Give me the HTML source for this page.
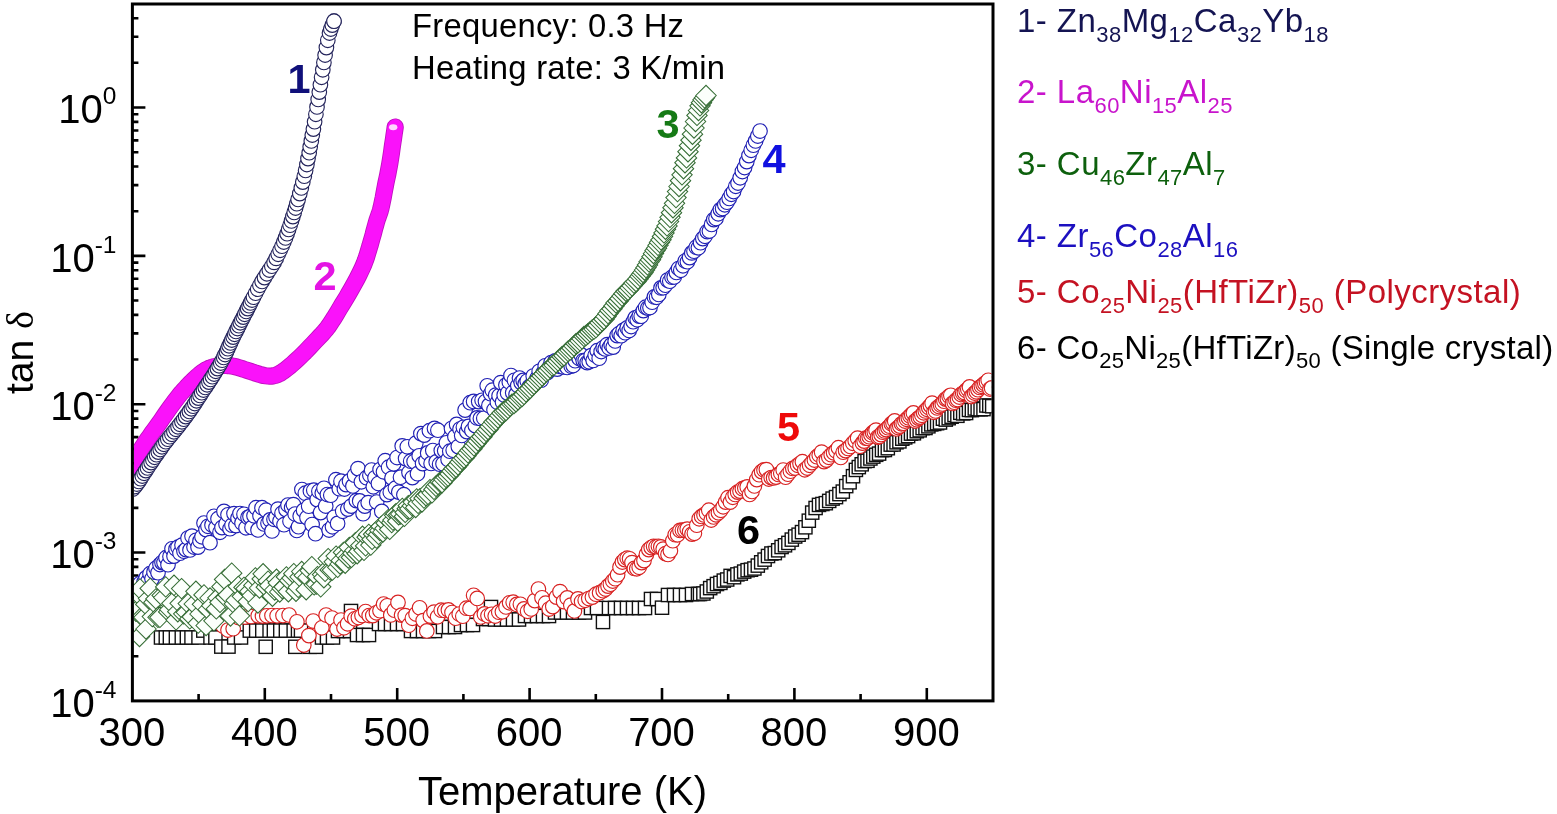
<!DOCTYPE html>
<html><head><meta charset="utf-8"><title>tan delta vs temperature</title>
<style>html,body{margin:0;padding:0;background:#fff;overflow:hidden}svg{display:block}</style>
</head><body>
<svg width="1557" height="814" viewBox="0 0 1557 814">
<rect width="100%" height="100%" fill="#fff"/>
<path d="M198.6 700.9V693.9 M264.8 700.9V687.9 M331.0 700.9V693.9 M397.2 700.9V687.9 M463.4 700.9V693.9 M529.6 700.9V687.9 M595.8 700.9V693.9 M662.0 700.9V687.9 M728.2 700.9V693.9 M794.4 700.9V687.9 M860.6 700.9V693.9 M926.8 700.9V687.9 M132.4 656.2H138.4 M132.4 630.1H138.4 M132.4 611.6H138.4 M132.4 597.2H138.4 M132.4 585.5H138.4 M132.4 575.5H138.4 M132.4 566.9H138.4 M132.4 559.3H138.4 M132.4 552.5H145.4 M132.4 507.9H138.4 M132.4 481.8H138.4 M132.4 463.2H138.4 M132.4 448.9H138.4 M132.4 437.1H138.4 M132.4 427.2H138.4 M132.4 418.6H138.4 M132.4 411.0H138.4 M132.4 404.2H145.4 M132.4 359.5H138.4 M132.4 333.4H138.4 M132.4 314.9H138.4 M132.4 300.5H138.4 M132.4 288.8H138.4 M132.4 278.8H138.4 M132.4 270.2H138.4 M132.4 262.6H138.4 M132.4 255.9H145.4 M132.4 211.2H138.4 M132.4 185.1H138.4 M132.4 166.5H138.4 M132.4 152.2H138.4 M132.4 140.4H138.4 M132.4 130.5H138.4 M132.4 121.9H138.4 M132.4 114.3H138.4 M132.4 107.5H145.4 M132.4 62.8H138.4 M132.4 36.7H138.4 M132.4 18.2H138.4" stroke="#000" stroke-width="2.6" fill="none"/>
<defs><clipPath id="pc"><rect x="133.9" y="5.5" width="857.6" height="693.9"/></clipPath></defs>
<g clip-path="url(#pc)">
<g fill="#fff" stroke="#111" stroke-width="1.4">
<rect x="154.4" y="630.9" width="13.2" height="13.2"/><rect x="159.2" y="630.9" width="13.2" height="13.2"/><rect x="163.3" y="630.9" width="13.2" height="13.2"/><rect x="169.3" y="630.9" width="13.2" height="13.2"/><rect x="175.2" y="630.9" width="13.2" height="13.2"/><rect x="180.3" y="630.9" width="13.2" height="13.2"/><rect x="184.9" y="630.9" width="13.2" height="13.2"/><rect x="191.9" y="630.9" width="13.2" height="13.2"/><rect x="196.7" y="624" width="13.2" height="13.2"/><rect x="203.9" y="630.9" width="13.2" height="13.2"/><rect x="208.8" y="630.9" width="13.2" height="13.2"/><rect x="214.7" y="640" width="13.2" height="13.2"/><rect x="221.9" y="640" width="13.2" height="13.2"/><rect x="227.6" y="630.9" width="13.2" height="13.2"/><rect x="234.4" y="630.9" width="13.2" height="13.2"/><rect x="243.2" y="624" width="13.2" height="13.2"/><rect x="249.6" y="624" width="13.2" height="13.2"/><rect x="255.7" y="624" width="13.2" height="13.2"/><rect x="259.1" y="640.2" width="13.2" height="13.2"/><rect x="263" y="624" width="13.2" height="13.2"/><rect x="267.3" y="624" width="13.2" height="13.2"/><rect x="273.7" y="624" width="13.2" height="13.2"/><rect x="279.3" y="624" width="13.2" height="13.2"/><rect x="287.1" y="624" width="13.2" height="13.2"/><rect x="288.7" y="640.2" width="13.2" height="13.2"/><rect x="291.4" y="624" width="13.2" height="13.2"/><rect x="294.4" y="624" width="13.2" height="13.2"/><rect x="303.1" y="640.2" width="13.2" height="13.2"/><rect x="309.4" y="640.2" width="13.2" height="13.2"/><rect x="315.4" y="630.9" width="13.2" height="13.2"/><rect x="320.4" y="630.9" width="13.2" height="13.2"/><rect x="326.4" y="630.9" width="13.2" height="13.2"/><rect x="331.4" y="624.4" width="13.2" height="13.2"/><rect x="337.4" y="624.4" width="13.2" height="13.2"/><rect x="343.4" y="624.4" width="13.2" height="13.2"/><rect x="344.4" y="604.4" width="13.2" height="13.2"/><rect x="350.4" y="628.4" width="13.2" height="13.2"/><rect x="356.4" y="628.4" width="13.2" height="13.2"/><rect x="362.4" y="628.4" width="13.2" height="13.2"/><rect x="372.4" y="617.4" width="13.2" height="13.2"/><rect x="378.4" y="617.4" width="13.2" height="13.2"/><rect x="384.4" y="617.4" width="13.2" height="13.2"/><rect x="390.4" y="617.4" width="13.2" height="13.2"/><rect x="396.4" y="617.4" width="13.2" height="13.2"/><rect x="404.4" y="624.4" width="13.2" height="13.2"/><rect x="410.4" y="624.4" width="13.2" height="13.2"/><rect x="416.4" y="624.4" width="13.2" height="13.2"/><rect x="422.4" y="624.4" width="13.2" height="13.2"/><rect x="428.4" y="624.4" width="13.2" height="13.2"/><rect x="436.4" y="620.4" width="13.2" height="13.2"/><rect x="442.4" y="620.4" width="13.2" height="13.2"/><rect x="448.4" y="620.4" width="13.2" height="13.2"/><rect x="454.4" y="618.4" width="13.2" height="13.2"/><rect x="460.4" y="618.4" width="13.2" height="13.2"/><rect x="466.4" y="618.4" width="13.2" height="13.2"/><rect x="476.4" y="612.4" width="13.2" height="13.2"/><rect x="482.4" y="612.4" width="13.2" height="13.2"/><rect x="484.4" y="600.4" width="13.2" height="13.2"/><rect x="488.4" y="612.9" width="13.2" height="13.2"/><rect x="494.4" y="612.9" width="13.2" height="13.2"/><rect x="500.4" y="612.9" width="13.2" height="13.2"/><rect x="506.4" y="612.9" width="13.2" height="13.2"/><rect x="512.4" y="612.9" width="13.2" height="13.2"/><rect x="518.4" y="609.4" width="13.2" height="13.2"/><rect x="524.4" y="609.4" width="13.2" height="13.2"/><rect x="530.4" y="609.4" width="13.2" height="13.2"/><rect x="536.4" y="609.4" width="13.2" height="13.2"/><rect x="542.4" y="609.4" width="13.2" height="13.2"/><rect x="548.4" y="605.9" width="13.2" height="13.2"/><rect x="554.4" y="605.9" width="13.2" height="13.2"/><rect x="560.4" y="605.9" width="13.2" height="13.2"/><rect x="566.4" y="605.9" width="13.2" height="13.2"/><rect x="572.4" y="605.9" width="13.2" height="13.2"/><rect x="578.4" y="605.9" width="13.2" height="13.2"/><rect x="584.4" y="601.4" width="13.2" height="13.2"/><rect x="590.4" y="601.4" width="13.2" height="13.2"/><rect x="596.4" y="615.4" width="13.2" height="13.2"/><rect x="602.4" y="601.4" width="13.2" height="13.2"/><rect x="608.4" y="601.4" width="13.2" height="13.2"/><rect x="614.4" y="601.4" width="13.2" height="13.2"/><rect x="620.4" y="601.4" width="13.2" height="13.2"/><rect x="626.4" y="601.4" width="13.2" height="13.2"/><rect x="632.4" y="601.4" width="13.2" height="13.2"/><rect x="638.4" y="601.4" width="13.2" height="13.2"/><rect x="644.4" y="592.4" width="13.2" height="13.2"/><rect x="650.4" y="592.4" width="13.2" height="13.2"/><rect x="655.4" y="601.1" width="13.2" height="13.2"/><rect x="661.4" y="588.4" width="13.2" height="13.2"/><rect x="667.4" y="588.4" width="13.2" height="13.2"/><rect x="673.4" y="588.4" width="13.2" height="13.2"/><rect x="679.4" y="588.4" width="13.2" height="13.2"/><rect x="685.4" y="587.4" width="13.2" height="13.2"/><rect x="691.4" y="587.4" width="13.2" height="13.2"/><rect x="693.4" y="587.4" width="13.2" height="13.2"/><rect x="696.8" y="586.9" width="13.2" height="13.2"/><rect x="700.2" y="584.9" width="13.2" height="13.2"/><rect x="703.6" y="581.5" width="13.2" height="13.2"/><rect x="707" y="579.6" width="13.2" height="13.2"/><rect x="710.4" y="577.4" width="13.2" height="13.2"/><rect x="713.8" y="576.3" width="13.2" height="13.2"/><rect x="717.2" y="574" width="13.2" height="13.2"/><rect x="720.6" y="572.9" width="13.2" height="13.2"/><rect x="724" y="569.3" width="13.2" height="13.2"/><rect x="727.4" y="570.6" width="13.2" height="13.2"/><rect x="730.8" y="567.8" width="13.2" height="13.2"/><rect x="734.2" y="567" width="13.2" height="13.2"/><rect x="737.6" y="565" width="13.2" height="13.2"/><rect x="741" y="563.6" width="13.2" height="13.2"/><rect x="744.4" y="563.1" width="13.2" height="13.2"/><rect x="747.8" y="561.9" width="13.2" height="13.2"/><rect x="751.2" y="559" width="13.2" height="13.2"/><rect x="754.6" y="555.7" width="13.2" height="13.2"/><rect x="758" y="553" width="13.2" height="13.2"/><rect x="761.4" y="549.4" width="13.2" height="13.2"/><rect x="764.8" y="546.9" width="13.2" height="13.2"/><rect x="768.2" y="546.5" width="13.2" height="13.2"/><rect x="771.6" y="543.7" width="13.2" height="13.2"/><rect x="775" y="540.4" width="13.2" height="13.2"/><rect x="778.4" y="538.7" width="13.2" height="13.2"/><rect x="781.8" y="536.3" width="13.2" height="13.2"/><rect x="785.2" y="533" width="13.2" height="13.2"/><rect x="788.6" y="529.9" width="13.2" height="13.2"/><rect x="792" y="528.1" width="13.2" height="13.2"/><rect x="795.4" y="525.5" width="13.2" height="13.2"/><rect x="798.8" y="520.7" width="13.2" height="13.2"/><rect x="802.2" y="514.1" width="13.2" height="13.2"/><rect x="805.6" y="506" width="13.2" height="13.2"/><rect x="809" y="501.4" width="13.2" height="13.2"/><rect x="812.4" y="498.3" width="13.2" height="13.2"/><rect x="815.8" y="497.4" width="13.2" height="13.2"/><rect x="819.2" y="496.6" width="13.2" height="13.2"/><rect x="822.6" y="494.3" width="13.2" height="13.2"/><rect x="826" y="492" width="13.2" height="13.2"/><rect x="829.4" y="490.5" width="13.2" height="13.2"/><rect x="832.8" y="487.5" width="13.2" height="13.2"/><rect x="836.2" y="485" width="13.2" height="13.2"/><rect x="839.6" y="479.5" width="13.2" height="13.2"/><rect x="843" y="475.7" width="13.2" height="13.2"/><rect x="846.4" y="469.6" width="13.2" height="13.2"/><rect x="849.3" y="463.3" width="13.2" height="13.2"/><rect x="852.2" y="460.5" width="13.2" height="13.2"/><rect x="855.1" y="457.7" width="13.2" height="13.2"/><rect x="858" y="454.5" width="13.2" height="13.2"/><rect x="860.9" y="454.2" width="13.2" height="13.2"/><rect x="863.8" y="451.9" width="13.2" height="13.2"/><rect x="866.7" y="450" width="13.2" height="13.2"/><rect x="869.6" y="448.2" width="13.2" height="13.2"/><rect x="872.5" y="447" width="13.2" height="13.2"/><rect x="875.4" y="443.5" width="13.2" height="13.2"/><rect x="878.3" y="443.4" width="13.2" height="13.2"/><rect x="881.2" y="441.6" width="13.2" height="13.2"/><rect x="884.1" y="438" width="13.2" height="13.2"/><rect x="887" y="437.9" width="13.2" height="13.2"/><rect x="889.9" y="435.7" width="13.2" height="13.2"/><rect x="892.8" y="434.8" width="13.2" height="13.2"/><rect x="895.7" y="432.1" width="13.2" height="13.2"/><rect x="898.6" y="430.8" width="13.2" height="13.2"/><rect x="901.5" y="429.5" width="13.2" height="13.2"/><rect x="904.4" y="427" width="13.2" height="13.2"/><rect x="907.3" y="426.7" width="13.2" height="13.2"/><rect x="910.2" y="424.6" width="13.2" height="13.2"/><rect x="913.1" y="423.7" width="13.2" height="13.2"/><rect x="916" y="421.5" width="13.2" height="13.2"/><rect x="918.9" y="421.4" width="13.2" height="13.2"/><rect x="921.8" y="419.7" width="13.2" height="13.2"/><rect x="924.7" y="417.8" width="13.2" height="13.2"/><rect x="927.6" y="417.3" width="13.2" height="13.2"/><rect x="930.5" y="416.6" width="13.2" height="13.2"/><rect x="933.4" y="415.9" width="13.2" height="13.2"/><rect x="936.3" y="412.1" width="13.2" height="13.2"/><rect x="939.2" y="413" width="13.2" height="13.2"/><rect x="942.1" y="411.6" width="13.2" height="13.2"/><rect x="945" y="410.1" width="13.2" height="13.2"/><rect x="947.9" y="408.4" width="13.2" height="13.2"/><rect x="950.8" y="409.2" width="13.2" height="13.2"/><rect x="953.7" y="406.2" width="13.2" height="13.2"/><rect x="956.6" y="406.8" width="13.2" height="13.2"/><rect x="959.5" y="406.4" width="13.2" height="13.2"/><rect x="962.4" y="403.3" width="13.2" height="13.2"/><rect x="965.3" y="403.5" width="13.2" height="13.2"/><rect x="968.2" y="401.9" width="13.2" height="13.2"/><rect x="971.1" y="402.4" width="13.2" height="13.2"/><rect x="974" y="402.7" width="13.2" height="13.2"/><rect x="976.9" y="402.5" width="13.2" height="13.2"/><rect x="979.8" y="398.9" width="13.2" height="13.2"/><rect x="982.7" y="399.2" width="13.2" height="13.2"/><rect x="985.6" y="399.6" width="13.2" height="13.2"/>
</g>
<g fill="#fff" stroke="#d82222" stroke-width="1.15">
<circle cx="136" cy="616" r="7.3"/><circle cx="138" cy="612" r="7.3"/><circle cx="223" cy="626" r="7.3"/><circle cx="228" cy="630" r="7.3"/><circle cx="233.2" cy="628.7" r="7.3"/><circle cx="238.4" cy="617.5" r="7.3"/><circle cx="245" cy="617" r="7.3"/><circle cx="251" cy="616.5" r="7.3"/><circle cx="258.2" cy="615.8" r="7.3"/><circle cx="262.5" cy="616" r="7.3"/><circle cx="266.8" cy="615.8" r="7.3"/><circle cx="272" cy="615.5" r="7.3"/><circle cx="277.1" cy="615.8" r="7.3"/><circle cx="283" cy="615.5" r="7.3"/><circle cx="289.1" cy="615" r="7.3"/><circle cx="296.9" cy="621.8" r="7.3"/><circle cx="303.8" cy="645" r="7.3"/><circle cx="308.9" cy="635.6" r="7.3"/><circle cx="313.2" cy="621" r="7.3"/><circle cx="321.8" cy="627.8" r="7.3"/><circle cx="326.1" cy="615" r="7.3"/><circle cx="332" cy="618" r="7.3"/><circle cx="337" cy="629" r="7.3"/><circle cx="341" cy="620" r="7.3"/><circle cx="344" cy="627.8" r="7.3"/><circle cx="347.6" cy="623.8" r="7.3"/><circle cx="351.2" cy="616.1" r="7.3"/><circle cx="354.8" cy="618.8" r="7.3"/><circle cx="358.4" cy="617.5" r="7.3"/><circle cx="362" cy="615.5" r="7.3"/><circle cx="365.6" cy="611.5" r="7.3"/><circle cx="369.2" cy="615.5" r="7.3"/><circle cx="372.8" cy="615.6" r="7.3"/><circle cx="376.4" cy="612.8" r="7.3"/><circle cx="380" cy="610.7" r="7.3"/><circle cx="383.6" cy="604" r="7.3"/><circle cx="387.2" cy="605.8" r="7.3"/><circle cx="390.8" cy="614.9" r="7.3"/><circle cx="394.4" cy="610.2" r="7.3"/><circle cx="398" cy="602.4" r="7.3"/><circle cx="401.6" cy="615.1" r="7.3"/><circle cx="405.2" cy="615.6" r="7.3"/><circle cx="408.8" cy="625.2" r="7.3"/><circle cx="412.4" cy="618.3" r="7.3"/><circle cx="416" cy="614" r="7.3"/><circle cx="419.6" cy="607.8" r="7.3"/><circle cx="423.2" cy="620.6" r="7.3"/><circle cx="426.8" cy="630.9" r="7.3"/><circle cx="430.4" cy="616.1" r="7.3"/><circle cx="434" cy="612.1" r="7.3"/><circle cx="437.6" cy="616.8" r="7.3"/><circle cx="441.2" cy="610.2" r="7.3"/><circle cx="444.8" cy="610.5" r="7.3"/><circle cx="448.4" cy="609.9" r="7.3"/><circle cx="452" cy="612.5" r="7.3"/><circle cx="455.6" cy="618.2" r="7.3"/><circle cx="459.2" cy="614" r="7.3"/><circle cx="462.8" cy="616.2" r="7.3"/><circle cx="466.4" cy="608.2" r="7.3"/><circle cx="470" cy="608.4" r="7.3"/><circle cx="473.6" cy="595.3" r="7.3"/><circle cx="477.2" cy="598.4" r="7.3"/><circle cx="480.8" cy="616.9" r="7.3"/><circle cx="484.4" cy="613.9" r="7.3"/><circle cx="488" cy="615.8" r="7.3"/><circle cx="491.6" cy="614.3" r="7.3"/><circle cx="495.2" cy="616" r="7.3"/><circle cx="498.8" cy="612.2" r="7.3"/><circle cx="502.4" cy="611.8" r="7.3"/><circle cx="506" cy="606.9" r="7.3"/><circle cx="509.6" cy="602.8" r="7.3"/><circle cx="513.2" cy="602.2" r="7.3"/><circle cx="516.8" cy="604.4" r="7.3"/><circle cx="520.4" cy="604.3" r="7.3"/><circle cx="524" cy="608.9" r="7.3"/><circle cx="527.6" cy="611.3" r="7.3"/><circle cx="531.2" cy="608.9" r="7.3"/><circle cx="534.8" cy="600.6" r="7.3"/><circle cx="538.4" cy="589" r="7.3"/><circle cx="542" cy="597.8" r="7.3"/><circle cx="545.6" cy="603.2" r="7.3"/><circle cx="549.2" cy="609" r="7.3"/><circle cx="552.8" cy="606.6" r="7.3"/><circle cx="556.4" cy="597.1" r="7.3"/><circle cx="560" cy="591.6" r="7.3"/><circle cx="563.6" cy="601.6" r="7.3"/><circle cx="567.2" cy="597.9" r="7.3"/><circle cx="570.8" cy="605.1" r="7.3"/><circle cx="574.4" cy="610.9" r="7.3"/><circle cx="578" cy="598.9" r="7.3"/><circle cx="581.6" cy="601.5" r="7.3"/><circle cx="585.2" cy="600.3" r="7.3"/><circle cx="588.8" cy="598.5" r="7.3"/><circle cx="592.4" cy="597.1" r="7.3"/><circle cx="596" cy="594.2" r="7.3"/><circle cx="599.6" cy="592.7" r="7.3"/><circle cx="603.2" cy="590.7" r="7.3"/><circle cx="605.6" cy="589" r="7.3"/><circle cx="608" cy="586.1" r="7.3"/><circle cx="610.4" cy="584.2" r="7.3"/><circle cx="612.8" cy="581" r="7.3"/><circle cx="615.2" cy="578.7" r="7.3"/><circle cx="617.6" cy="574.7" r="7.3"/><circle cx="620" cy="567.1" r="7.3"/><circle cx="622.4" cy="562" r="7.3"/><circle cx="624.8" cy="559.6" r="7.3"/><circle cx="627.2" cy="558.2" r="7.3"/><circle cx="629.6" cy="558.8" r="7.3"/><circle cx="632" cy="562.6" r="7.3"/><circle cx="634.4" cy="568.4" r="7.3"/><circle cx="636.8" cy="568.8" r="7.3"/><circle cx="639.2" cy="567.3" r="7.3"/><circle cx="641.6" cy="562.6" r="7.3"/><circle cx="644" cy="560.6" r="7.3"/><circle cx="646.4" cy="554.4" r="7.3"/><circle cx="648.8" cy="549.6" r="7.3"/><circle cx="651.2" cy="547.6" r="7.3"/><circle cx="653.6" cy="546.3" r="7.3"/><circle cx="656" cy="546.7" r="7.3"/><circle cx="658.4" cy="546.3" r="7.3"/><circle cx="660.8" cy="546.9" r="7.3"/><circle cx="663.2" cy="549.1" r="7.3"/><circle cx="665.6" cy="553.6" r="7.3"/><circle cx="668" cy="554.4" r="7.3"/><circle cx="670.4" cy="550.7" r="7.3"/><circle cx="672.8" cy="540.7" r="7.3"/><circle cx="675.2" cy="534.7" r="7.3"/><circle cx="677.6" cy="534.8" r="7.3"/><circle cx="680" cy="530.4" r="7.3"/><circle cx="682.4" cy="530.2" r="7.3"/><circle cx="684.8" cy="530" r="7.3"/><circle cx="687.2" cy="529.1" r="7.3"/><circle cx="689.6" cy="531.8" r="7.3"/><circle cx="692" cy="534.1" r="7.3"/><circle cx="694.4" cy="533.3" r="7.3"/><circle cx="696.8" cy="525.2" r="7.3"/><circle cx="699.2" cy="518.8" r="7.3"/><circle cx="701.6" cy="516.4" r="7.3"/><circle cx="704" cy="514.9" r="7.3"/><circle cx="706.4" cy="513.2" r="7.3"/><circle cx="708.8" cy="510.2" r="7.3"/><circle cx="711.2" cy="520" r="7.3"/><circle cx="713.6" cy="516.9" r="7.3"/><circle cx="716" cy="514.8" r="7.3"/><circle cx="718.4" cy="512.8" r="7.3"/><circle cx="720.8" cy="510.3" r="7.3"/><circle cx="723.2" cy="506.8" r="7.3"/><circle cx="725.6" cy="502.1" r="7.3"/><circle cx="728" cy="497.7" r="7.3"/><circle cx="730.4" cy="502" r="7.3"/><circle cx="732.8" cy="497.3" r="7.3"/><circle cx="735.2" cy="494.4" r="7.3"/><circle cx="737.6" cy="492.1" r="7.3"/><circle cx="740" cy="491.1" r="7.3"/><circle cx="742.4" cy="488.7" r="7.3"/><circle cx="744.8" cy="487.9" r="7.3"/><circle cx="747.2" cy="486.9" r="7.3"/><circle cx="749.6" cy="494.4" r="7.3"/><circle cx="752" cy="491.4" r="7.3"/><circle cx="754.4" cy="485.9" r="7.3"/><circle cx="756.8" cy="479.6" r="7.3"/><circle cx="759.2" cy="474.7" r="7.3"/><circle cx="761.6" cy="471.6" r="7.3"/><circle cx="764" cy="469.9" r="7.3"/><circle cx="766.4" cy="469.6" r="7.3"/><circle cx="768.8" cy="479" r="7.3"/><circle cx="771.2" cy="477.6" r="7.3"/><circle cx="773.6" cy="477.9" r="7.3"/><circle cx="776" cy="477.1" r="7.3"/><circle cx="778.4" cy="474.4" r="7.3"/><circle cx="780.8" cy="473.2" r="7.3"/><circle cx="783.2" cy="470" r="7.3"/><circle cx="785.6" cy="477.2" r="7.3"/><circle cx="788" cy="474.2" r="7.3"/><circle cx="790.4" cy="471.2" r="7.3"/><circle cx="792.8" cy="468.4" r="7.3"/><circle cx="795.2" cy="467.9" r="7.3"/><circle cx="797.6" cy="465.3" r="7.3"/><circle cx="800" cy="463.6" r="7.3"/><circle cx="802.4" cy="461.7" r="7.3"/><circle cx="804.8" cy="469.8" r="7.3"/><circle cx="807.2" cy="468" r="7.3"/><circle cx="809.6" cy="465.3" r="7.3"/><circle cx="812" cy="462.6" r="7.3"/><circle cx="814.4" cy="460" r="7.3"/><circle cx="816.8" cy="456.7" r="7.3"/><circle cx="819.2" cy="455" r="7.3"/><circle cx="821.6" cy="452.1" r="7.3"/><circle cx="824" cy="461.6" r="7.3"/><circle cx="826.4" cy="460.1" r="7.3"/><circle cx="828.8" cy="457.3" r="7.3"/><circle cx="831.2" cy="454.7" r="7.3"/><circle cx="833.6" cy="452.8" r="7.3"/><circle cx="836" cy="450.9" r="7.3"/><circle cx="838.4" cy="447.7" r="7.3"/><circle cx="840.8" cy="457.4" r="7.3"/><circle cx="843.2" cy="452.2" r="7.3"/><circle cx="845.6" cy="450.6" r="7.3"/><circle cx="848" cy="448.4" r="7.3"/><circle cx="850.4" cy="446.4" r="7.3"/><circle cx="852.8" cy="443.3" r="7.3"/><circle cx="855.2" cy="440.7" r="7.3"/><circle cx="857.6" cy="438.1" r="7.3"/><circle cx="860" cy="446.3" r="7.3"/><circle cx="862.4" cy="443.1" r="7.3"/><circle cx="864.1" cy="441.1" r="7.3"/><circle cx="865.8" cy="438.2" r="7.3"/><circle cx="867.5" cy="438.2" r="7.3"/><circle cx="869.2" cy="436.7" r="7.3"/><circle cx="870.9" cy="434.7" r="7.3"/><circle cx="872.6" cy="432.7" r="7.3"/><circle cx="874.3" cy="431.9" r="7.3"/><circle cx="876" cy="430.1" r="7.3"/><circle cx="877.7" cy="437.1" r="7.3"/><circle cx="879.4" cy="436.5" r="7.3"/><circle cx="881.1" cy="434.6" r="7.3"/><circle cx="882.8" cy="432.2" r="7.3"/><circle cx="884.5" cy="430.9" r="7.3"/><circle cx="886.2" cy="429.6" r="7.3"/><circle cx="887.9" cy="427.7" r="7.3"/><circle cx="889.6" cy="426.2" r="7.3"/><circle cx="891.3" cy="423.7" r="7.3"/><circle cx="893" cy="423.1" r="7.3"/><circle cx="894.7" cy="420.9" r="7.3"/><circle cx="896.4" cy="428.9" r="7.3"/><circle cx="898.1" cy="427.5" r="7.3"/><circle cx="899.8" cy="426.1" r="7.3"/><circle cx="901.5" cy="423.8" r="7.3"/><circle cx="903.2" cy="423.2" r="7.3"/><circle cx="904.9" cy="421" r="7.3"/><circle cx="906.6" cy="419.3" r="7.3"/><circle cx="908.3" cy="417.7" r="7.3"/><circle cx="910" cy="416" r="7.3"/><circle cx="911.7" cy="414.4" r="7.3"/><circle cx="913.4" cy="412.9" r="7.3"/><circle cx="915.1" cy="421" r="7.3"/><circle cx="916.8" cy="419.7" r="7.3"/><circle cx="918.5" cy="418.1" r="7.3"/><circle cx="920.2" cy="417.1" r="7.3"/><circle cx="921.9" cy="415.3" r="7.3"/><circle cx="923.6" cy="412.8" r="7.3"/><circle cx="925.3" cy="410.9" r="7.3"/><circle cx="927" cy="409.3" r="7.3"/><circle cx="928.7" cy="407.4" r="7.3"/><circle cx="930.4" cy="405.6" r="7.3"/><circle cx="932.1" cy="403.1" r="7.3"/><circle cx="933.8" cy="412.3" r="7.3"/><circle cx="935.5" cy="410.9" r="7.3"/><circle cx="937.2" cy="407.9" r="7.3"/><circle cx="938.9" cy="406.5" r="7.3"/><circle cx="940.6" cy="405" r="7.3"/><circle cx="942.3" cy="403.9" r="7.3"/><circle cx="944" cy="401.2" r="7.3"/><circle cx="945.7" cy="399.1" r="7.3"/><circle cx="947.4" cy="398.6" r="7.3"/><circle cx="949.1" cy="396.2" r="7.3"/><circle cx="950.8" cy="395.3" r="7.3"/><circle cx="952.5" cy="403.4" r="7.3"/><circle cx="954.2" cy="402.2" r="7.3"/><circle cx="955.9" cy="400.2" r="7.3"/><circle cx="957.6" cy="399.5" r="7.3"/><circle cx="959.3" cy="397" r="7.3"/><circle cx="961" cy="394.5" r="7.3"/><circle cx="962.7" cy="393.3" r="7.3"/><circle cx="964.4" cy="392.5" r="7.3"/><circle cx="966.1" cy="390.4" r="7.3"/><circle cx="967.8" cy="389.3" r="7.3"/><circle cx="969.5" cy="386.9" r="7.3"/><circle cx="971.2" cy="396.5" r="7.3"/><circle cx="972.9" cy="395" r="7.3"/><circle cx="974.6" cy="393" r="7.3"/><circle cx="976.3" cy="391.7" r="7.3"/><circle cx="978" cy="389.7" r="7.3"/><circle cx="979.7" cy="387.4" r="7.3"/><circle cx="981.4" cy="386.3" r="7.3"/><circle cx="983.1" cy="384.8" r="7.3"/><circle cx="984.8" cy="383.4" r="7.3"/><circle cx="986.5" cy="382.2" r="7.3"/><circle cx="988.2" cy="380.3" r="7.3"/><circle cx="989.9" cy="389" r="7.3"/><circle cx="991.6" cy="387.9" r="7.3"/>
</g>
<g fill="#fff" stroke="#2020b4" stroke-width="1.15">
<circle cx="134" cy="592.8" r="7.3"/><circle cx="136" cy="588.4" r="7.3"/><circle cx="138" cy="587.9" r="7.3"/><circle cx="140" cy="583.5" r="7.3"/><circle cx="142" cy="587.9" r="7.3"/><circle cx="144" cy="582.1" r="7.3"/><circle cx="146" cy="577.9" r="7.3"/><circle cx="148" cy="581.2" r="7.3"/><circle cx="150" cy="573.7" r="7.3"/><circle cx="152" cy="578.8" r="7.3"/><circle cx="154" cy="572" r="7.3"/><circle cx="156" cy="568.2" r="7.3"/><circle cx="158" cy="572.7" r="7.3"/><circle cx="160" cy="564.5" r="7.3"/><circle cx="162" cy="562.6" r="7.3"/><circle cx="164" cy="562.5" r="7.3"/><circle cx="166" cy="557.7" r="7.3"/><circle cx="168" cy="564.7" r="7.3"/><circle cx="170" cy="556.4" r="7.3"/><circle cx="172" cy="548.8" r="7.3"/><circle cx="174" cy="556.1" r="7.3"/><circle cx="176" cy="548.9" r="7.3"/><circle cx="178" cy="547.2" r="7.3"/><circle cx="180" cy="553.2" r="7.3"/><circle cx="182" cy="545.1" r="7.3"/><circle cx="184" cy="551.2" r="7.3"/><circle cx="186" cy="549.6" r="7.3"/><circle cx="188" cy="538" r="7.3"/><circle cx="190" cy="549.9" r="7.3"/><circle cx="192" cy="536.1" r="7.3"/><circle cx="194" cy="547" r="7.3"/><circle cx="196" cy="540.3" r="7.3"/><circle cx="198" cy="547.1" r="7.3"/><circle cx="200" cy="540.9" r="7.3"/><circle cx="202" cy="536.8" r="7.3"/><circle cx="204" cy="523" r="7.3"/><circle cx="206" cy="529.6" r="7.3"/><circle cx="208" cy="526.3" r="7.3"/><circle cx="210" cy="542.7" r="7.3"/><circle cx="212" cy="524.9" r="7.3"/><circle cx="214" cy="516.3" r="7.3"/><circle cx="216" cy="527.5" r="7.3"/><circle cx="218" cy="518.7" r="7.3"/><circle cx="220" cy="532.3" r="7.3"/><circle cx="222" cy="527.6" r="7.3"/><circle cx="224" cy="511.4" r="7.3"/><circle cx="226" cy="524.1" r="7.3"/><circle cx="228" cy="514.8" r="7.3"/><circle cx="230" cy="528.7" r="7.3"/><circle cx="232" cy="525.2" r="7.3"/><circle cx="234" cy="513.6" r="7.3"/><circle cx="236" cy="525.6" r="7.3"/><circle cx="238" cy="518" r="7.3"/><circle cx="240" cy="513.5" r="7.3"/><circle cx="242" cy="522.9" r="7.3"/><circle cx="244" cy="514.3" r="7.3"/><circle cx="246" cy="527.8" r="7.3"/><circle cx="248" cy="517.4" r="7.3"/><circle cx="250" cy="516.6" r="7.3"/><circle cx="252" cy="527.4" r="7.3"/><circle cx="254" cy="515.8" r="7.3"/><circle cx="256" cy="507.7" r="7.3"/><circle cx="258" cy="529.9" r="7.3"/><circle cx="260" cy="515.8" r="7.3"/><circle cx="262" cy="507.7" r="7.3"/><circle cx="264" cy="523.9" r="7.3"/><circle cx="266" cy="510.2" r="7.3"/><circle cx="268" cy="523.2" r="7.3"/><circle cx="270" cy="519.9" r="7.3"/><circle cx="272" cy="530.9" r="7.3"/><circle cx="274" cy="519.3" r="7.3"/><circle cx="276" cy="517.1" r="7.3"/><circle cx="278" cy="509.1" r="7.3"/><circle cx="280" cy="521.1" r="7.3"/><circle cx="282" cy="513.2" r="7.3"/><circle cx="284" cy="524.7" r="7.3"/><circle cx="286" cy="509.6" r="7.3"/><circle cx="288" cy="505" r="7.3"/><circle cx="290" cy="521.3" r="7.3"/><circle cx="291.7" cy="507.6" r="7.3"/><circle cx="293.4" cy="504.6" r="7.3"/><circle cx="295.1" cy="514" r="7.3"/><circle cx="296.8" cy="530.4" r="7.3"/><circle cx="298.5" cy="526.7" r="7.3"/><circle cx="300.2" cy="516.1" r="7.3"/><circle cx="301.9" cy="489.5" r="7.3"/><circle cx="303.6" cy="510.4" r="7.3"/><circle cx="305.3" cy="493.2" r="7.3"/><circle cx="307" cy="517.6" r="7.3"/><circle cx="308.7" cy="506.2" r="7.3"/><circle cx="310.4" cy="490.9" r="7.3"/><circle cx="312.1" cy="524.5" r="7.3"/><circle cx="313.8" cy="490.2" r="7.3"/><circle cx="315.5" cy="533.7" r="7.3"/><circle cx="317.2" cy="499.6" r="7.3"/><circle cx="318.9" cy="491.3" r="7.3"/><circle cx="320.6" cy="512.6" r="7.3"/><circle cx="322.3" cy="493.1" r="7.3"/><circle cx="324" cy="488.3" r="7.3"/><circle cx="325.7" cy="506" r="7.3"/><circle cx="327.4" cy="494.5" r="7.3"/><circle cx="329.1" cy="530" r="7.3"/><circle cx="330.8" cy="495.2" r="7.3"/><circle cx="332.5" cy="526.8" r="7.3"/><circle cx="334.2" cy="517.3" r="7.3"/><circle cx="335.9" cy="479.7" r="7.3"/><circle cx="337.6" cy="523.4" r="7.3"/><circle cx="339.3" cy="488.7" r="7.3"/><circle cx="341" cy="481.2" r="7.3"/><circle cx="342.7" cy="511.3" r="7.3"/><circle cx="344.4" cy="489" r="7.3"/><circle cx="346.1" cy="484.6" r="7.3"/><circle cx="347.8" cy="509.1" r="7.3"/><circle cx="349.5" cy="480.9" r="7.3"/><circle cx="351.2" cy="506.1" r="7.3"/><circle cx="352.9" cy="485.9" r="7.3"/><circle cx="354.6" cy="475.2" r="7.3"/><circle cx="356.3" cy="500.6" r="7.3"/><circle cx="358" cy="468.6" r="7.3"/><circle cx="359.7" cy="500.9" r="7.3"/><circle cx="361.4" cy="481.8" r="7.3"/><circle cx="363.1" cy="513.7" r="7.3"/><circle cx="364.8" cy="506.1" r="7.3"/><circle cx="366.5" cy="477.7" r="7.3"/><circle cx="368.2" cy="502.7" r="7.3"/><circle cx="369.9" cy="475.3" r="7.3"/><circle cx="371.6" cy="470" r="7.3"/><circle cx="373.3" cy="486.8" r="7.3"/><circle cx="375" cy="477.8" r="7.3"/><circle cx="376.7" cy="502" r="7.3"/><circle cx="378.4" cy="483.5" r="7.3"/><circle cx="380.1" cy="469.5" r="7.3"/><circle cx="381.8" cy="511.4" r="7.3"/><circle cx="383.5" cy="471.8" r="7.3"/><circle cx="385.2" cy="460.7" r="7.3"/><circle cx="386.9" cy="494.6" r="7.3"/><circle cx="388.6" cy="467.2" r="7.3"/><circle cx="390.3" cy="492.2" r="7.3"/><circle cx="392" cy="478.1" r="7.3"/><circle cx="393.7" cy="463.8" r="7.3"/><circle cx="395.4" cy="488.2" r="7.3"/><circle cx="397.1" cy="457.5" r="7.3"/><circle cx="398.8" cy="492.1" r="7.3"/><circle cx="400.5" cy="477.2" r="7.3"/><circle cx="402.2" cy="445.9" r="7.3"/><circle cx="403.9" cy="494.7" r="7.3"/><circle cx="405.6" cy="458.6" r="7.3"/><circle cx="407.3" cy="446.8" r="7.3"/><circle cx="409" cy="472.6" r="7.3"/><circle cx="410.7" cy="461.2" r="7.3"/><circle cx="412.4" cy="477.6" r="7.3"/><circle cx="414.1" cy="461.5" r="7.3"/><circle cx="415.8" cy="443.2" r="7.3"/><circle cx="417.5" cy="473.7" r="7.3"/><circle cx="419.2" cy="455.8" r="7.3"/><circle cx="420.9" cy="433.6" r="7.3"/><circle cx="422.6" cy="463.6" r="7.3"/><circle cx="424.3" cy="435.1" r="7.3"/><circle cx="426" cy="460.7" r="7.3"/><circle cx="427.7" cy="452.9" r="7.3"/><circle cx="429.4" cy="430.7" r="7.3"/><circle cx="431.1" cy="463.4" r="7.3"/><circle cx="432.8" cy="450.5" r="7.3"/><circle cx="434.5" cy="428.4" r="7.3"/><circle cx="436.2" cy="461.9" r="7.3"/><circle cx="437.9" cy="430.2" r="7.3"/><circle cx="439.6" cy="464.2" r="7.3"/><circle cx="441.3" cy="450.6" r="7.3"/><circle cx="443" cy="463.8" r="7.3"/><circle cx="444.7" cy="450.7" r="7.3"/><circle cx="446.4" cy="442.8" r="7.3"/><circle cx="448.1" cy="459.4" r="7.3"/><circle cx="449.8" cy="451.2" r="7.3"/><circle cx="451.5" cy="428.5" r="7.3"/><circle cx="453.2" cy="450.3" r="7.3"/><circle cx="454.9" cy="436.7" r="7.3"/><circle cx="456.6" cy="424.4" r="7.3"/><circle cx="458.3" cy="446.6" r="7.3"/><circle cx="460" cy="429" r="7.3"/><circle cx="461.7" cy="435.4" r="7.3"/><circle cx="463.4" cy="427.3" r="7.3"/><circle cx="465.1" cy="410.1" r="7.3"/><circle cx="466.8" cy="431.6" r="7.3"/><circle cx="468.5" cy="426.4" r="7.3"/><circle cx="470.2" cy="402.7" r="7.3"/><circle cx="471.9" cy="430.5" r="7.3"/><circle cx="473.6" cy="401.4" r="7.3"/><circle cx="475.3" cy="425.6" r="7.3"/><circle cx="477" cy="417.9" r="7.3"/><circle cx="478.7" cy="401.6" r="7.3"/><circle cx="480.4" cy="418.4" r="7.3"/><circle cx="482.1" cy="400.3" r="7.3"/><circle cx="483.8" cy="418.3" r="7.3"/><circle cx="485.5" cy="401.5" r="7.3"/><circle cx="487.2" cy="385.8" r="7.3"/><circle cx="488.9" cy="405.4" r="7.3"/><circle cx="490.6" cy="393.7" r="7.3"/><circle cx="492.3" cy="390.2" r="7.3"/><circle cx="494" cy="409.8" r="7.3"/><circle cx="495.7" cy="395.1" r="7.3"/><circle cx="497.4" cy="402.2" r="7.3"/><circle cx="499.1" cy="395.7" r="7.3"/><circle cx="500.8" cy="382.6" r="7.3"/><circle cx="502.5" cy="402" r="7.3"/><circle cx="504.2" cy="394.9" r="7.3"/><circle cx="505.9" cy="385" r="7.3"/><circle cx="507.6" cy="393.1" r="7.3"/><circle cx="509.3" cy="381.9" r="7.3"/><circle cx="511" cy="375.5" r="7.3"/><circle cx="512.7" cy="392.7" r="7.3"/><circle cx="514.4" cy="380.3" r="7.3"/><circle cx="516.1" cy="394.4" r="7.3"/><circle cx="517.8" cy="385.5" r="7.3"/><circle cx="519.5" cy="378" r="7.3"/><circle cx="521.2" cy="382.6" r="7.3"/><circle cx="523.2" cy="380.4" r="7.3"/><circle cx="525.2" cy="383.9" r="7.3"/><circle cx="527.2" cy="381" r="7.3"/><circle cx="529.2" cy="386.9" r="7.3"/><circle cx="531.2" cy="385.1" r="7.3"/><circle cx="533.2" cy="376" r="7.3"/><circle cx="535.2" cy="381.8" r="7.3"/><circle cx="537.2" cy="378" r="7.3"/><circle cx="539.2" cy="371.3" r="7.3"/><circle cx="541.2" cy="380.2" r="7.3"/><circle cx="543.2" cy="372.9" r="7.3"/><circle cx="545.2" cy="365.8" r="7.3"/><circle cx="547.2" cy="372.8" r="7.3"/><circle cx="549.2" cy="367.6" r="7.3"/><circle cx="551.2" cy="362.6" r="7.3"/><circle cx="553.2" cy="366.9" r="7.3"/><circle cx="555.2" cy="360.9" r="7.3"/><circle cx="557.2" cy="369.1" r="7.3"/><circle cx="559.2" cy="366.3" r="7.3"/><circle cx="561.2" cy="358.2" r="7.3"/><circle cx="563.2" cy="366.9" r="7.3"/><circle cx="565.2" cy="359.2" r="7.3"/><circle cx="567.2" cy="367.4" r="7.3"/><circle cx="569.2" cy="361.1" r="7.3"/><circle cx="571.2" cy="366.2" r="7.3"/><circle cx="573.2" cy="365.4" r="7.3"/><circle cx="575.2" cy="360.7" r="7.3"/><circle cx="577.2" cy="355.3" r="7.3"/><circle cx="579.2" cy="358.5" r="7.3"/><circle cx="581.2" cy="354.9" r="7.3"/><circle cx="583.2" cy="360.6" r="7.3"/><circle cx="585.2" cy="360.6" r="7.3"/><circle cx="587.2" cy="362.6" r="7.3"/><circle cx="589.2" cy="361.7" r="7.3"/><circle cx="591.2" cy="355.6" r="7.3"/><circle cx="593.2" cy="360.4" r="7.3"/><circle cx="595.2" cy="355.3" r="7.3"/><circle cx="597.2" cy="350.7" r="7.3"/><circle cx="599.2" cy="358.2" r="7.3"/><circle cx="601.2" cy="351.5" r="7.3"/><circle cx="603.2" cy="347.8" r="7.3"/><circle cx="605.2" cy="348.9" r="7.3"/><circle cx="607.2" cy="344.6" r="7.3"/><circle cx="609.2" cy="347.9" r="7.3"/><circle cx="611.2" cy="344.9" r="7.3"/><circle cx="613.2" cy="347.1" r="7.3"/><circle cx="615.2" cy="340.9" r="7.3"/><circle cx="617.2" cy="335.6" r="7.3"/><circle cx="619.2" cy="333.6" r="7.3"/><circle cx="621.2" cy="335.7" r="7.3"/><circle cx="623.2" cy="330.4" r="7.3"/><circle cx="625.2" cy="332.7" r="7.3"/><circle cx="627.2" cy="327.9" r="7.3"/><circle cx="629.2" cy="330.5" r="7.3"/><circle cx="631.2" cy="326.5" r="7.3"/><circle cx="633.2" cy="321.7" r="7.3"/><circle cx="635.2" cy="317.9" r="7.3"/><circle cx="637.2" cy="319.8" r="7.3"/><circle cx="639.2" cy="316.1" r="7.3"/><circle cx="641.2" cy="316.2" r="7.3"/><circle cx="643.4" cy="310.6" r="7.3"/><circle cx="645.6" cy="307.2" r="7.3"/><circle cx="647.8" cy="308.1" r="7.3"/><circle cx="650" cy="307.4" r="7.3"/><circle cx="652.2" cy="302.2" r="7.3"/><circle cx="654.4" cy="296.9" r="7.3"/><circle cx="656.6" cy="297.3" r="7.3"/><circle cx="658.8" cy="294.4" r="7.3"/><circle cx="661" cy="287.9" r="7.3"/><circle cx="663.2" cy="287.7" r="7.3"/><circle cx="665.4" cy="285.2" r="7.3"/><circle cx="667.6" cy="280.1" r="7.3"/><circle cx="669.8" cy="281.2" r="7.3"/><circle cx="672" cy="277.2" r="7.3"/><circle cx="674.2" cy="276.9" r="7.3"/><circle cx="676.4" cy="272.4" r="7.3"/><circle cx="678.6" cy="268.5" r="7.3"/><circle cx="680.8" cy="270.3" r="7.3"/><circle cx="683" cy="265.8" r="7.3"/><circle cx="685.2" cy="261" r="7.3"/><circle cx="687.4" cy="261.7" r="7.3"/><circle cx="689.6" cy="257.6" r="7.3"/><circle cx="691.8" cy="252.9" r="7.3"/><circle cx="694" cy="251.2" r="7.3"/><circle cx="696.2" cy="247.2" r="7.3"/><circle cx="698.4" cy="247.8" r="7.3"/><circle cx="700.6" cy="242.7" r="7.3"/><circle cx="702.8" cy="238.6" r="7.3"/><circle cx="705" cy="236.3" r="7.3"/><circle cx="707.2" cy="231.6" r="7.3"/><circle cx="709.4" cy="231" r="7.3"/><circle cx="711.6" cy="224.4" r="7.3"/><circle cx="713.8" cy="219.6" r="7.3"/><circle cx="716" cy="218.4" r="7.3"/><circle cx="718.2" cy="213.8" r="7.3"/><circle cx="720.4" cy="209.6" r="7.3"/><circle cx="722.6" cy="208.4" r="7.3"/><circle cx="724.8" cy="204.8" r="7.3"/><circle cx="727" cy="202.2" r="7.3"/><circle cx="729.2" cy="198.4" r="7.3"/><circle cx="731.4" cy="194.3" r="7.3"/><circle cx="733.6" cy="191.5" r="7.3"/><circle cx="735.8" cy="186.3" r="7.3"/><circle cx="738" cy="183" r="7.3"/><circle cx="740.2" cy="177.8" r="7.3"/><circle cx="742.4" cy="171.5" r="7.3"/><circle cx="744.6" cy="167.5" r="7.3"/><circle cx="746.8" cy="161.6" r="7.3"/><circle cx="749" cy="155.6" r="7.3"/><circle cx="751.2" cy="150.3" r="7.3"/><circle cx="753.4" cy="145.2" r="7.3"/><circle cx="755.6" cy="140.9" r="7.3"/><circle cx="757.8" cy="136" r="7.3"/><circle cx="760" cy="131" r="7.3"/>
</g>
<g fill="#fbfffb" stroke="#346c34" stroke-width="1.05">
<path d="M121.7 597.9L131.9 587.7L142.1 597.9L131.9 608.1Z"/><path d="M124 627.6L134.2 617.4L144.4 627.6L134.2 637.8Z"/><path d="M125.8 611.3L136 601.1L146.2 611.3L136 621.5Z"/><path d="M128.1 594.3L138.3 584.1L148.5 594.3L138.3 604.5Z"/><path d="M129.3 636.5L139.5 626.3L149.7 636.5L139.5 646.7Z"/><path d="M129.8 588.9L140 578.7L150.2 588.9L140 599.1Z"/><path d="M132 616.4L142.2 606.2L152.4 616.4L142.2 626.6Z"/><path d="M133.7 617.3L143.9 607.1L154.1 617.3L143.9 627.5Z"/><path d="M135.6 604.4L145.8 594.2L156 604.4L145.8 614.6Z"/><path d="M135.8 629L146 618.8L156.2 629L146 639.2Z"/><path d="M138.3 598.5L148.5 588.3L158.7 598.5L148.5 608.7Z"/><path d="M140 588.4L150.2 578.2L160.4 588.4L150.2 598.6Z"/><path d="M142.1 616.6L152.3 606.4L162.5 616.6L152.3 626.8Z"/><path d="M143.7 602.3L153.9 592.1L164.1 602.3L153.9 612.5Z"/><path d="M145.7 598.9L155.9 588.7L166.1 598.9L155.9 609.1Z"/><path d="M147.8 617.3L158 607.1L168.2 617.3L158 627.5Z"/><path d="M149.7 617.3L159.9 607.1L170.1 617.3L159.9 627.5Z"/><path d="M152 595.4L162.2 585.2L172.4 595.4L162.2 605.6Z"/><path d="M153.6 597.5L163.8 587.3L174 597.5L163.8 607.7Z"/><path d="M155.5 586.9L165.7 576.7L175.9 586.9L165.7 597.1Z"/><path d="M158.5 611.9L168.7 601.7L178.9 611.9L168.7 622.1Z"/><path d="M159.6 609.6L169.8 599.4L180 609.6L169.8 619.8Z"/><path d="M161.7 603.4L171.9 593.2L182.1 603.4L171.9 613.6Z"/><path d="M163.8 585.3L174 575.1L184.2 585.3L174 595.5Z"/><path d="M165.9 619.8L176.1 609.6L186.3 619.8L176.1 630Z"/><path d="M167.6 611.7L177.8 601.5L188 611.7L177.8 621.9Z"/><path d="M169.9 603.3L180.1 593.1L190.3 603.3L180.1 613.5Z"/><path d="M171.4 588.6L181.6 578.4L191.8 588.6L181.6 598.8Z"/><path d="M173.5 613.8L183.7 603.6L193.9 613.8L183.7 624Z"/><path d="M176.1 612.3L186.3 602.1L196.5 612.3L186.3 622.5Z"/><path d="M178 603.6L188.2 593.4L198.4 603.6L188.2 613.8Z"/><path d="M179.6 618.8L189.8 608.6L200 618.8L189.8 629Z"/><path d="M182.1 616.9L192.3 606.7L202.5 616.9L192.3 627.1Z"/><path d="M184 604L194.2 593.8L204.4 604L194.2 614.2Z"/><path d="M185.7 591.3L195.9 581.1L206.1 591.3L195.9 601.5Z"/><path d="M188 623.1L198.2 612.9L208.4 623.1L198.2 633.3Z"/><path d="M189.8 614L200 603.8L210.2 614L200 624.2Z"/><path d="M192.2 604.3L202.4 594.1L212.6 604.3L202.4 614.5Z"/><path d="M193.8 594.9L204 584.7L214.2 594.9L204 605.1Z"/><path d="M195.9 625.5L206.1 615.3L216.3 625.5L206.1 635.7Z"/><path d="M198 609.5L208.2 599.3L218.4 609.5L208.2 619.7Z"/><path d="M199.8 598L210 587.8L220.2 598L210 608.2Z"/><path d="M201.5 605.6L211.7 595.4L221.9 605.6L211.7 615.8Z"/><path d="M203.7 620.8L213.9 610.6L224.1 620.8L213.9 631Z"/><path d="M206.1 608.9L216.3 598.7L226.5 608.9L216.3 619.1Z"/><path d="M207.7 597.8L217.9 587.6L228.1 597.8L217.9 608Z"/><path d="M209.8 602.4L220 592.2L230.2 602.4L220 612.6Z"/><path d="M211.8 586.7L222 576.5L232.2 586.7L222 596.9Z"/><path d="M214.4 579.4L224.6 569.2L234.8 579.4L224.6 589.6Z"/><path d="M215.6 597.4L225.8 587.2L236 597.4L225.8 607.6Z"/><path d="M218.1 594.9L228.3 584.7L238.5 594.9L228.3 605.1Z"/><path d="M220.3 616L230.5 605.8L240.7 616L230.5 626.2Z"/><path d="M221.5 573.2L231.7 563L241.9 573.2L231.7 583.4Z"/><path d="M224.1 603.8L234.3 593.6L244.5 603.8L234.3 614Z"/><path d="M225.9 600.3L236.1 590.1L246.3 600.3L236.1 610.5Z"/><path d="M228.1 586.4L238.3 576.2L248.5 586.4L238.3 596.6Z"/><path d="M229.3 615.8L239.5 605.6L249.7 615.8L239.5 626Z"/><path d="M232.1 596.3L242.3 586.1L252.5 596.3L242.3 606.5Z"/><path d="M233.8 587.4L244 577.2L254.2 587.4L244 597.6Z"/><path d="M235.8 588.7L246 578.5L256.2 588.7L246 598.9Z"/><path d="M238 601.6L248.2 591.4L258.4 601.6L248.2 611.8Z"/><path d="M239.6 591.4L249.8 581.2L260 591.4L249.8 601.6Z"/><path d="M242 595.5L252.2 585.3L262.4 595.5L252.2 605.7Z"/><path d="M243.7 585.4L253.9 575.2L264.1 585.4L253.9 595.6Z"/><path d="M245.2 577.9L255.4 567.7L265.6 577.9L255.4 588.1Z"/><path d="M247.7 603L257.9 592.8L268.1 603L257.9 613.2Z"/><path d="M249.3 588L259.5 577.8L269.7 588L259.5 598.2Z"/><path d="M252 578.9L262.2 568.7L272.4 578.9L262.2 589.1Z"/><path d="M252.9 573.8L263.1 563.6L273.3 573.8L263.1 584Z"/><path d="M256.1 587.2L266.3 577L276.5 587.2L266.3 597.4Z"/><path d="M257.9 581.2L268.1 571L278.3 581.2L268.1 591.4Z"/><path d="M259.6 585.7L269.8 575.5L280 585.7L269.8 595.9Z"/><path d="M262.3 596.2L272.5 586L282.7 596.2L272.5 606.4Z"/><path d="M264.5 590L274.7 579.8L284.9 590L274.7 600.2Z"/><path d="M266.3 579.3L276.5 569.1L286.7 579.3L276.5 589.5Z"/><path d="M268.1 582.9L278.3 572.7L288.5 582.9L278.3 593.1Z"/><path d="M269.5 592L279.7 581.8L289.9 592L279.7 602.2Z"/><path d="M272 588.5L282.2 578.3L292.4 588.5L282.2 598.7Z"/><path d="M274 586.9L284.2 576.7L294.4 586.9L284.2 597.1Z"/><path d="M276.2 576.9L286.4 566.7L296.6 576.9L286.4 587.1Z"/><path d="M278.2 591.7L288.4 581.5L298.6 591.7L288.4 601.9Z"/><path d="M279.5 580.7L289.7 570.5L299.9 580.7L289.7 590.9Z"/><path d="M281.8 578.1L292 567.9L302.2 578.1L292 588.3Z"/><path d="M283.6 573.7L293.8 563.5L304 573.7L293.8 583.9Z"/><path d="M285.8 591.2L296 581L306.2 591.2L296 601.4Z"/><path d="M288 587.3L298.2 577.1L308.4 587.3L298.2 597.5Z"/><path d="M289.8 576.8L300 566.6L310.2 576.8L300 587Z"/><path d="M291.5 571.5L301.7 561.3L311.9 571.5L301.7 581.7Z"/><path d="M294.1 575.4L304.3 565.2L314.5 575.4L304.3 585.6Z"/><path d="M296 589.7L306.2 579.5L316.4 589.7L306.2 599.9Z"/><path d="M297.7 577.5L307.9 567.3L318.1 577.5L307.9 587.7Z"/><path d="M299.9 570.6L310.1 560.4L320.3 570.6L310.1 580.8Z"/><path d="M301.6 566.7L311.8 556.5L322 566.7L311.8 576.9Z"/><path d="M304 584.8L314.2 574.6L324.4 584.8L314.2 595Z"/><path d="M306.2 584.1L316.4 573.9L326.6 584.1L316.4 594.3Z"/><path d="M307.3 576.7L317.5 566.5L327.7 576.7L317.5 586.9Z"/><path d="M310.5 586.8L320.7 576.6L330.9 586.8L320.7 597Z"/><path d="M312.3 574.6L322.5 564.4L332.7 574.6L322.5 584.8Z"/><path d="M313.7 577.7L323.9 567.5L334.1 577.7L323.9 587.9Z"/><path d="M314.9 571.3L325.1 561.1L335.3 571.3L325.1 581.5Z"/><path d="M318 558.6L328.2 548.4L338.4 558.6L328.2 568.8Z"/><path d="M320 569.9L330.2 559.7L340.4 569.9L330.2 580.1Z"/><path d="M322.2 570.1L332.4 559.9L342.6 570.1L332.4 580.3Z"/><path d="M324 561.8L334.2 551.6L344.4 561.8L334.2 572Z"/><path d="M325.9 556.1L336.1 545.9L346.3 556.1L336.1 566.3Z"/><path d="M327.5 567.3L337.7 557.1L347.9 567.3L337.7 577.5Z"/><path d="M329.9 564L340.1 553.8L350.3 564L340.1 574.2Z"/><path d="M331.1 560.5L341.3 550.3L351.5 560.5L341.3 570.7Z"/><path d="M333.3 552.4L343.5 542.2L353.7 552.4L343.5 562.6Z"/><path d="M335 563.2L345.2 553L355.4 563.2L345.2 573.4Z"/><path d="M335.7 555.6L345.9 545.4L356.1 555.6L345.9 565.8Z"/><path d="M338.1 558L348.3 547.8L358.5 558L348.3 568.2Z"/><path d="M339.1 547.5L349.3 537.3L359.5 547.5L349.3 557.7Z"/><path d="M341.2 557.4L351.4 547.2L361.6 557.4L351.4 567.6Z"/><path d="M342.7 553.4L352.9 543.2L363.1 553.4L352.9 563.6Z"/><path d="M344.7 550.5L354.9 540.3L365.1 550.5L354.9 560.7Z"/><path d="M345.2 542.7L355.4 532.5L365.6 542.7L355.4 552.9Z"/><path d="M347 553.7L357.2 543.5L367.4 553.7L357.2 563.9Z"/><path d="M348.9 551.3L359.1 541.1L369.3 551.3L359.1 561.5Z"/><path d="M350.6 545.7L360.8 535.5L371 545.7L360.8 555.9Z"/><path d="M352.3 536.3L362.5 526.1L372.7 536.3L362.5 546.5Z"/><path d="M353.8 550.3L364 540.1L374.2 550.3L364 560.5Z"/><path d="M355.4 545.9L365.6 535.7L375.8 545.9L365.6 556.1Z"/><path d="M356.9 537.2L367.1 527L377.3 537.2L367.1 547.4Z"/><path d="M358.6 534.4L368.8 524.2L379 534.4L368.8 544.6Z"/><path d="M360.6 545.1L370.8 534.9L381 545.1L370.8 555.3Z"/><path d="M361.9 539.4L372.1 529.2L382.3 539.4L372.1 549.6Z"/><path d="M363.4 534.2L373.6 524L383.8 534.2L373.6 544.4Z"/><path d="M365.3 532.3L375.5 522.1L385.7 532.3L375.5 542.5Z"/><path d="M366.3 538.1L376.5 527.9L386.7 538.1L376.5 548.3Z"/><path d="M368.4 534.3L378.6 524.1L388.8 534.3L378.6 544.5Z"/><path d="M369.7 530.5L379.9 520.3L390.1 530.5L379.9 540.7Z"/><path d="M371 526.4L381.2 516.2L391.4 526.4L381.2 536.6Z"/><path d="M372.7 532L382.9 521.8L393.1 532L382.9 542.2Z"/><path d="M374.7 528.3L384.9 518.1L395.1 528.3L384.9 538.5Z"/><path d="M375.9 523.2L386.1 513L396.3 523.2L386.1 533.4Z"/><path d="M378 519.6L388.2 509.4L398.4 519.6L388.2 529.8Z"/><path d="M379.5 529.4L389.7 519.2L399.9 529.4L389.7 539.6Z"/><path d="M381.5 522.6L391.7 512.4L401.9 522.6L391.7 532.8Z"/><path d="M382.7 520.1L392.9 509.9L403.1 520.1L392.9 530.3Z"/><path d="M384.4 515.3L394.6 505.1L404.8 515.3L394.6 525.5Z"/><path d="M385.8 513.8L396 503.6L406.2 513.8L396 524Z"/><path d="M387.5 521.2L397.7 511L407.9 521.2L397.7 531.4Z"/><path d="M388.5 514.7L398.7 504.5L408.9 514.7L398.7 524.9Z"/><path d="M390.5 514L400.7 503.8L410.9 514L400.7 524.2Z"/><path d="M392.1 508.4L402.3 498.2L412.5 508.4L402.3 518.6Z"/><path d="M394.2 516.3L404.4 506.1L414.6 516.3L404.4 526.5Z"/><path d="M395 512.4L405.2 502.2L415.4 512.4L405.2 522.6Z"/><path d="M397.1 508.7L407.3 498.5L417.5 508.7L407.3 518.9Z"/><path d="M398.1 505.7L408.3 495.5L418.5 505.7L408.3 515.9Z"/><path d="M399.6 508.9L409.8 498.7L420 508.9L409.8 519.1Z"/><path d="M402.1 505.8L412.3 495.6L422.5 505.8L412.3 516Z"/><path d="M403 502.1L413.2 491.9L423.4 502.1L413.2 512.3Z"/><path d="M405.5 507.5L415.7 497.3L425.9 507.5L415.7 517.7Z"/><path d="M406.5 498.9L416.7 488.7L426.9 498.9L416.7 509.1Z"/><path d="M407.9 503.4L418.1 493.2L428.3 503.4L418.1 513.6Z"/><path d="M409.8 498.6L420 488.4L430.2 498.6L420 508.8Z"/><path d="M411.8 502L422 491.8L432.2 502L422 512.2Z"/><path d="M413.8 498.1L424 487.9L434.2 498.1L424 508.3Z"/><path d="M415.8 495.7L426 485.5L436.2 495.7L426 505.9Z"/><path d="M417.8 494.3L428 484.1L438.2 494.3L428 504.5Z"/><path d="M419.8 489.7L430 479.5L440.2 489.7L430 499.9Z"/><path d="M421.8 492.8L432 482.6L442.2 492.8L432 503Z"/><path d="M423.8 489.4L434 479.2L444.2 489.4L434 499.6Z"/><path d="M425.8 486.3L436 476.1L446.2 486.3L436 496.5Z"/><path d="M427.8 484.5L438 474.3L448.2 484.5L438 494.7Z"/><path d="M429.8 482.1L440 471.9L450.2 482.1L440 492.3Z"/><path d="M431.8 482.7L442 472.5L452.2 482.7L442 492.9Z"/><path d="M433.8 479.6L444 469.4L454.2 479.6L444 489.8Z"/><path d="M435.8 477.3L446 467.1L456.2 477.3L446 487.5Z"/><path d="M437.8 476.1L448 465.9L458.2 476.1L448 486.3Z"/><path d="M439.8 473.9L450 463.7L460.2 473.9L450 484.1Z"/><path d="M441.8 471.2L452 461L462.2 471.2L452 481.4Z"/><path d="M443.8 468.6L454 458.4L464.2 468.6L454 478.8Z"/><path d="M445.8 467.2L456 457L466.2 467.2L456 477.4Z"/><path d="M447.8 464.9L458 454.7L468.2 464.9L458 475.1Z"/><path d="M449.8 462.1L460 451.9L470.2 462.1L460 472.3Z"/><path d="M451.8 459.5L462 449.3L472.2 459.5L462 469.7Z"/><path d="M453.8 458L464 447.8L474.2 458L464 468.2Z"/><path d="M455.8 455.8L466 445.6L476.2 455.8L466 466Z"/><path d="M457.8 452.9L468 442.7L478.2 452.9L468 463.1Z"/><path d="M459.8 450.3L470 440.1L480.2 450.3L470 460.5Z"/><path d="M461.8 448.8L472 438.6L482.2 448.8L472 459Z"/><path d="M463.8 445.9L474 435.7L484.2 445.9L474 456.1Z"/><path d="M465.8 443.6L476 433.4L486.2 443.6L476 453.8Z"/><path d="M467.8 441L478 430.8L488.2 441L478 451.2Z"/><path d="M469.8 438.2L480 428L490.2 438.2L480 448.4Z"/><path d="M471.8 436.7L482 426.5L492.2 436.7L482 446.9Z"/><path d="M473.8 433.8L484 423.6L494.2 433.8L484 444Z"/><path d="M475.8 431.3L486 421.1L496.2 431.3L486 441.5Z"/><path d="M477.8 429.5L488 419.3L498.2 429.5L488 439.7Z"/><path d="M479.8 426.7L490 416.5L500.2 426.7L490 436.9Z"/><path d="M481.8 424.5L492 414.3L502.2 424.5L492 434.7Z"/><path d="M483.8 421.8L494 411.6L504.2 421.8L494 432Z"/><path d="M485.8 420.3L496 410.1L506.2 420.3L496 430.5Z"/><path d="M487.8 418L498 407.8L508.2 418L498 428.2Z"/><path d="M489.8 415.5L500 405.3L510.2 415.5L500 425.7Z"/><path d="M491.8 413.2L502 403L512.2 413.2L502 423.4Z"/><path d="M493.8 411.3L504 401.1L514.2 411.3L504 421.5Z"/><path d="M495.8 410.5L506 400.3L516.2 410.5L506 420.7Z"/><path d="M497.8 408.4L508 398.2L518.2 408.4L508 418.6Z"/><path d="M499.8 406.2L510 396L520.2 406.2L510 416.4Z"/><path d="M501.8 404.3L512 394.1L522.2 404.3L512 414.5Z"/><path d="M503.8 403.5L514 393.3L524.2 403.5L514 413.7Z"/><path d="M505.8 401.7L516 391.5L526.2 401.7L516 411.9Z"/><path d="M507.8 399.7L518 389.5L528.2 399.7L518 409.9Z"/><path d="M509.8 397.6L520 387.4L530.2 397.6L520 407.8Z"/><path d="M511.8 396.5L522 386.3L532.2 396.5L522 406.7Z"/><path d="M513.8 394.4L524 384.2L534.2 394.4L524 404.6Z"/><path d="M515.8 391.9L526 381.7L536.2 391.9L526 402.1Z"/><path d="M517.8 389.6L528 379.4L538.2 389.6L528 399.8Z"/><path d="M519.8 388.4L530 378.2L540.2 388.4L530 398.6Z"/><path d="M521.8 386.1L532 375.9L542.2 386.1L532 396.3Z"/><path d="M523.8 384.2L534 374L544.2 384.2L534 394.4Z"/><path d="M525.8 382L536 371.8L546.2 382L536 392.2Z"/><path d="M527.8 379.6L538 369.4L548.2 379.6L538 389.8Z"/><path d="M529.8 377.9L540 367.7L550.2 377.9L540 388.1Z"/><path d="M531.8 375.9L542 365.7L552.2 375.9L542 386.1Z"/><path d="M533.8 373.9L544 363.7L554.2 373.9L544 384.1Z"/><path d="M535.8 371.6L546 361.4L556.2 371.6L546 381.8Z"/><path d="M537.8 370.4L548 360.2L558.2 370.4L548 380.6Z"/><path d="M539.8 368L550 357.8L560.2 368L550 378.2Z"/><path d="M541.8 365.9L552 355.7L562.2 365.9L552 376.1Z"/><path d="M543.8 365.1L554 354.9L564.2 365.1L554 375.3Z"/><path d="M545.8 362.7L556 352.5L566.2 362.7L556 372.9Z"/><path d="M547.8 360.8L558 350.6L568.2 360.8L558 371Z"/><path d="M549.8 358.7L560 348.5L570.2 358.7L560 368.9Z"/><path d="M551.8 356.7L562 346.5L572.2 356.7L562 366.9Z"/><path d="M553.8 355.7L564 345.5L574.2 355.7L564 365.9Z"/><path d="M555.8 353.4L566 343.2L576.2 353.4L566 363.6Z"/><path d="M557.8 351.3L568 341.1L578.2 351.3L568 361.5Z"/><path d="M559.8 350.1L570 339.9L580.2 350.1L570 360.3Z"/><path d="M561.8 348.2L572 338L582.2 348.2L572 358.4Z"/><path d="M563.8 346L574 335.8L584.2 346L574 356.2Z"/><path d="M565.8 343.7L576 333.5L586.2 343.7L576 353.9Z"/><path d="M567.8 342.7L578 332.5L588.2 342.7L578 352.9Z"/><path d="M569.8 340.8L580 330.6L590.2 340.8L580 351Z"/><path d="M571.8 338.8L582 328.6L592.2 338.8L582 349Z"/><path d="M573.8 336.4L584 326.2L594.2 336.4L584 346.6Z"/><path d="M575.8 335.4L586 325.2L596.2 335.4L586 345.6Z"/><path d="M577.8 333.7L588 323.5L598.2 333.7L588 343.9Z"/><path d="M579.8 331.9L590 321.7L600.2 331.9L590 342.1Z"/><path d="M581.8 330.2L592 320L602.2 330.2L592 340.4Z"/><path d="M583.8 329.1L594 318.9L604.2 329.1L594 339.3Z"/><path d="M585.8 327.6L596 317.4L606.2 327.6L596 337.8Z"/><path d="M587.8 325.2L598 315L608.2 325.2L598 335.4Z"/><path d="M589.8 322.8L600 312.6L610.2 322.8L600 333Z"/><path d="M591.8 320.8L602 310.6L612.2 320.8L602 331Z"/><path d="M593.8 319.2L604 309L614.2 319.2L604 329.4Z"/><path d="M595.8 316.5L606 306.3L616.2 316.5L606 326.7Z"/><path d="M597.8 313.6L608 303.4L618.2 313.6L608 323.8Z"/><path d="M599.8 310.7L610 300.5L620.2 310.7L610 320.9Z"/><path d="M601.8 308.8L612 298.6L622.2 308.8L612 319Z"/><path d="M603.8 305.9L614 295.7L624.2 305.9L614 316.1Z"/><path d="M605.8 302.9L616 292.7L626.2 302.9L616 313.1Z"/><path d="M607.8 301.2L618 291L628.2 301.2L618 311.4Z"/><path d="M609.8 298.7L620 288.5L630.2 298.7L620 308.9Z"/><path d="M611.8 296.1L622 285.9L632.2 296.1L622 306.3Z"/><path d="M613.8 293.7L624 283.5L634.2 293.7L624 303.9Z"/><path d="M615.8 291.2L626 281L636.2 291.2L626 301.4Z"/><path d="M617.8 290.2L628 280L638.2 290.2L628 300.4Z"/><path d="M619.8 287.8L630 277.6L640.2 287.8L630 298Z"/><path d="M621.8 285.8L632 275.6L642.2 285.8L632 296Z"/><path d="M623.8 283.1L634 272.9L644.2 283.1L634 293.3Z"/><path d="M625.8 281.5L636 271.3L646.2 281.5L636 291.7Z"/><path d="M627.8 279L638 268.8L648.2 279L638 289.2Z"/><path d="M629.8 276.3L640 266.1L650.2 276.3L640 286.5Z"/><path d="M631.3 274.3L641.5 264.1L651.7 274.3L641.5 284.5Z"/><path d="M632.8 272.5L643 262.3L653.2 272.5L643 282.7Z"/><path d="M634.3 270L644.5 259.8L654.7 270L644.5 280.2Z"/><path d="M635.8 267.6L646 257.4L656.2 267.6L646 277.8Z"/><path d="M637.3 264.9L647.5 254.7L657.7 264.9L647.5 275.1Z"/><path d="M638.8 261.8L649 251.6L659.2 261.8L649 272Z"/><path d="M640.3 259.8L650.5 249.6L660.7 259.8L650.5 270Z"/><path d="M641.8 256.7L652 246.5L662.2 256.7L652 266.9Z"/><path d="M643.3 253.5L653.5 243.3L663.7 253.5L653.5 263.7Z"/><path d="M644.8 250.6L655 240.4L665.2 250.6L655 260.8Z"/><path d="M646.3 248.3L656.5 238.1L666.7 248.3L656.5 258.5Z"/><path d="M647.8 245.3L658 235.1L668.2 245.3L658 255.5Z"/><path d="M649.3 242.3L659.5 232.1L669.7 242.3L659.5 252.5Z"/><path d="M650.8 239.8L661 229.6L671.2 239.8L661 250Z"/><path d="M652.3 236.4L662.5 226.2L672.7 236.4L662.5 246.6Z"/><path d="M653.8 232.9L664 222.7L674.2 232.9L664 243.1Z"/><path d="M655.3 229.2L665.5 219L675.7 229.2L665.5 239.4Z"/><path d="M656.8 225.9L667 215.7L677.2 225.9L667 236.1Z"/><path d="M658.3 221.6L668.5 211.4L678.7 221.6L668.5 231.8Z"/><path d="M659.8 217.3L670 207.1L680.2 217.3L670 227.5Z"/><path d="M661.3 212.7L671.5 202.5L681.7 212.7L671.5 222.9Z"/><path d="M662.8 207.7L673 197.5L683.2 207.7L673 217.9Z"/><path d="M664.3 203.3L674.5 193.1L684.7 203.3L674.5 213.5Z"/><path d="M665.8 197.6L676 187.4L686.2 197.6L676 207.8Z"/><path d="M667.3 191.6L677.5 181.4L687.7 191.6L677.5 201.8Z"/><path d="M668.8 186.5L679 176.3L689.2 186.5L679 196.7Z"/><path d="M670.3 180.7L680.5 170.5L690.7 180.7L680.5 190.9Z"/><path d="M671.8 174.8L682 164.6L692.2 174.8L682 185Z"/><path d="M673.3 168.7L683.5 158.5L693.7 168.7L683.5 178.9Z"/><path d="M674.8 162.7L685 152.5L695.2 162.7L685 172.9Z"/><path d="M676.3 157.9L686.5 147.7L696.7 157.9L686.5 168.1Z"/><path d="M677.8 151.7L688 141.5L698.2 151.7L688 161.9Z"/><path d="M679.3 145.7L689.5 135.5L699.7 145.7L689.5 155.9Z"/><path d="M680.8 140.2L691 130L701.2 140.2L691 150.4Z"/><path d="M682.3 134.2L692.5 124L702.7 134.2L692.5 144.4Z"/><path d="M683.8 128L694 117.8L704.2 128L694 138.2Z"/><path d="M685.3 121.5L695.5 111.3L705.7 121.5L695.5 131.7Z"/><path d="M686.8 115.4L697 105.2L707.2 115.4L697 125.6Z"/><path d="M688.3 110.5L698.5 100.3L708.7 110.5L698.5 120.7Z"/><path d="M689.8 105.8L700 95.6L710.2 105.8L700 116Z"/><path d="M691.3 102.7L701.5 92.5L711.7 102.7L701.5 112.9Z"/><path d="M692.8 99.8L703 89.6L713.2 99.8L703 110Z"/><path d="M694.3 97.8L704.5 87.6L714.7 97.8L704.5 108Z"/><path d="M695.8 95.5L706 85.3L716.2 95.5L706 105.7Z"/>
</g>
<path d="M124 476 L124.7 474.9 L125.6 473.6 L126.6 471.9 L127.9 469.9 L129.3 467.6 L131 465 L132.9 461.9 L135.2 458.4 L137.6 454.5 L140.1 450.5 L142.6 446.6 L145 443 L147.3 439.6 L149.6 436.4 L151.8 433.2 L154.1 430.1 L156.3 427.1 L158.5 424 L160.7 420.9 L162.8 417.8 L164.9 414.8 L167 411.8 L169 408.9 L171 406.2 L172.8 403.7 L174.5 401.4 L176.2 399.2 L177.8 397.1 L179.5 394.9 L181.4 392.7 L183.5 390.4 L185.7 388 L187.9 385.5 L190.2 383.2 L192.4 381 L194.5 379 L196.4 377.2 L198.2 375.6 L199.9 374.1 L201.6 372.8 L203.3 371.6 L205 370.5 L206.7 369.5 L208.4 368.7 L210 368 L211.7 367.4 L213.3 366.9 L215 366.5 L216.7 366.1 L218.4 365.9 L220 365.7 L221.7 365.6 L223.4 365.5 L225 365.5 L226.5 365.5 L228 365.6 L229.4 365.7 L230.9 365.8 L232.5 366.1 L234.4 366.5 L236.6 367 L238.9 367.7 L241.5 368.5 L244.1 369.4 L246.7 370.2 L249.2 371 L251.7 371.8 L254.3 372.7 L256.8 373.5 L259.3 374.3 L261.7 375 L263.9 375.5 L265.9 375.8 L267.8 376 L269.6 376.1 L271.3 376.1 L273 375.9 L274.7 375.5 L276.4 375 L278 374.4 L279.6 373.6 L281.2 372.6 L283 371.4 L285 370 L287.2 368.3 L289.7 366.3 L292.2 364.1 L294.8 361.8 L297.4 359.4 L300 357 L302.5 354.5 L305.1 352 L307.6 349.3 L310.1 346.7 L312.6 344.1 L315 341.5 L317.3 339.1 L319.5 336.8 L321.7 334.5 L323.8 332.1 L325.9 329.7 L328 327 L330 324.1 L332 321.1 L334 318 L336 314.7 L338 311.4 L340 308 L342.1 304.5 L344.3 300.9 L346.6 297.2 L348.8 293.4 L350.9 289.7 L353 286 L355 282.3 L357 278.7 L358.9 275 L360.7 271.3 L362.4 267.7 L364 264 L365.4 260.3 L366.7 256.6 L367.8 252.9 L368.9 249.2 L370 245.6 L371 242 L372 238.5 L373 235 L373.9 231.5 L374.8 228.1 L375.7 225 L376.5 222 L377.3 219.4 L378.1 217.2 L378.8 215.1 L379.6 213 L380.3 210.7 L381 208 L381.7 204.8 L382.4 201.4 L383.2 197.7 L383.9 193.8 L384.6 190 L385.3 186.3 L386 182.6 L386.8 179 L387.6 175.3 L388.3 171.6 L389 167.9 L389.7 164.2 L390.3 160.4 L390.9 156.5 L391.5 152.7 L392 148.9 L392.5 145.3 L393 142 L393.5 138.9 L393.9 135.9 L394.3 133.1 L394.7 130.6 L395 128.5 L395.2 127" fill="none" stroke="#c010c0" stroke-width="17.2" stroke-linecap="round" stroke-linejoin="round"/>
<path d="M124 476 L124.7 474.9 L125.6 473.6 L126.6 471.9 L127.9 469.9 L129.3 467.6 L131 465 L132.9 461.9 L135.2 458.4 L137.6 454.5 L140.1 450.5 L142.6 446.6 L145 443 L147.3 439.6 L149.6 436.4 L151.8 433.2 L154.1 430.1 L156.3 427.1 L158.5 424 L160.7 420.9 L162.8 417.8 L164.9 414.8 L167 411.8 L169 408.9 L171 406.2 L172.8 403.7 L174.5 401.4 L176.2 399.2 L177.8 397.1 L179.5 394.9 L181.4 392.7 L183.5 390.4 L185.7 388 L187.9 385.5 L190.2 383.2 L192.4 381 L194.5 379 L196.4 377.2 L198.2 375.6 L199.9 374.1 L201.6 372.8 L203.3 371.6 L205 370.5 L206.7 369.5 L208.4 368.7 L210 368 L211.7 367.4 L213.3 366.9 L215 366.5 L216.7 366.1 L218.4 365.9 L220 365.7 L221.7 365.6 L223.4 365.5 L225 365.5 L226.5 365.5 L228 365.6 L229.4 365.7 L230.9 365.8 L232.5 366.1 L234.4 366.5 L236.6 367 L238.9 367.7 L241.5 368.5 L244.1 369.4 L246.7 370.2 L249.2 371 L251.7 371.8 L254.3 372.7 L256.8 373.5 L259.3 374.3 L261.7 375 L263.9 375.5 L265.9 375.8 L267.8 376 L269.6 376.1 L271.3 376.1 L273 375.9 L274.7 375.5 L276.4 375 L278 374.4 L279.6 373.6 L281.2 372.6 L283 371.4 L285 370 L287.2 368.3 L289.7 366.3 L292.2 364.1 L294.8 361.8 L297.4 359.4 L300 357 L302.5 354.5 L305.1 352 L307.6 349.3 L310.1 346.7 L312.6 344.1 L315 341.5 L317.3 339.1 L319.5 336.8 L321.7 334.5 L323.8 332.1 L325.9 329.7 L328 327 L330 324.1 L332 321.1 L334 318 L336 314.7 L338 311.4 L340 308 L342.1 304.5 L344.3 300.9 L346.6 297.2 L348.8 293.4 L350.9 289.7 L353 286 L355 282.3 L357 278.7 L358.9 275 L360.7 271.3 L362.4 267.7 L364 264 L365.4 260.3 L366.7 256.6 L367.8 252.9 L368.9 249.2 L370 245.6 L371 242 L372 238.5 L373 235 L373.9 231.5 L374.8 228.1 L375.7 225 L376.5 222 L377.3 219.4 L378.1 217.2 L378.8 215.1 L379.6 213 L380.3 210.7 L381 208 L381.7 204.8 L382.4 201.4 L383.2 197.7 L383.9 193.8 L384.6 190 L385.3 186.3 L386 182.6 L386.8 179 L387.6 175.3 L388.3 171.6 L389 167.9 L389.7 164.2 L390.3 160.4 L390.9 156.5 L391.5 152.7 L392 148.9 L392.5 145.3 L393 142 L393.5 138.9 L393.9 135.9 L394.3 133.1 L394.7 130.6 L395 128.5 L395.2 127" fill="none" stroke="#fa12fa" stroke-width="15.4" stroke-linecap="round" stroke-linejoin="round"/>
<ellipse cx="393.2" cy="127.2" rx="4.2" ry="3" fill="#ffd6ff"/>
<g fill="#fff" stroke="#25255c" stroke-width="1.15">
<circle cx="133" cy="489" r="7.3"/><circle cx="135" cy="486.5" r="7.3"/><circle cx="137" cy="484" r="7.3"/><circle cx="138.8" cy="481.4" r="7.3"/><circle cx="140.6" cy="478.7" r="7.3"/><circle cx="142.3" cy="476" r="7.3"/><circle cx="144.1" cy="473.3" r="7.3"/><circle cx="145.8" cy="470.6" r="7.3"/><circle cx="147.5" cy="467.9" r="7.3"/><circle cx="149.3" cy="465.3" r="7.3"/><circle cx="151.1" cy="462.6" r="7.3"/><circle cx="152.9" cy="460" r="7.3"/><circle cx="154.7" cy="457.3" r="7.3"/><circle cx="156.5" cy="454.7" r="7.3"/><circle cx="158.3" cy="452.1" r="7.3"/><circle cx="160.2" cy="449.5" r="7.3"/><circle cx="162" cy="446.8" r="7.3"/><circle cx="163.9" cy="444.3" r="7.3"/><circle cx="165.8" cy="441.7" r="7.3"/><circle cx="167.8" cy="439.2" r="7.3"/><circle cx="169.8" cy="436.7" r="7.3"/><circle cx="171.9" cy="434.3" r="7.3"/><circle cx="173.9" cy="431.8" r="7.3"/><circle cx="176" cy="429.3" r="7.3"/><circle cx="178" cy="426.8" r="7.3"/><circle cx="179.9" cy="424.3" r="7.3"/><circle cx="181.9" cy="421.8" r="7.3"/><circle cx="183.8" cy="419.2" r="7.3"/><circle cx="185.7" cy="416.6" r="7.3"/><circle cx="187.6" cy="414" r="7.3"/><circle cx="189.4" cy="411.4" r="7.3"/><circle cx="191.3" cy="408.8" r="7.3"/><circle cx="193.1" cy="406.2" r="7.3"/><circle cx="194.8" cy="403.5" r="7.3"/><circle cx="196.5" cy="400.8" r="7.3"/><circle cx="198.3" cy="398.1" r="7.3"/><circle cx="200" cy="395.4" r="7.3"/><circle cx="201.7" cy="392.7" r="7.3"/><circle cx="203.5" cy="390" r="7.3"/><circle cx="205.3" cy="387.4" r="7.3"/><circle cx="207.1" cy="384.8" r="7.3"/><circle cx="208.9" cy="382.1" r="7.3"/><circle cx="210.6" cy="379.4" r="7.3"/><circle cx="212.4" cy="376.7" r="7.3"/><circle cx="214.1" cy="374" r="7.3"/><circle cx="215.8" cy="371.3" r="7.3"/><circle cx="217.4" cy="368.6" r="7.3"/><circle cx="219.1" cy="365.8" r="7.3"/><circle cx="220.7" cy="363" r="7.3"/><circle cx="222.2" cy="360.2" r="7.3"/><circle cx="223.7" cy="357.4" r="7.3"/><circle cx="225.1" cy="354.5" r="7.3"/><circle cx="226.5" cy="351.7" r="7.3"/><circle cx="227.8" cy="348.7" r="7.3"/><circle cx="229.1" cy="345.8" r="7.3"/><circle cx="230.5" cy="342.9" r="7.3"/><circle cx="231.8" cy="340" r="7.3"/><circle cx="233.2" cy="337.1" r="7.3"/><circle cx="234.6" cy="334.3" r="7.3"/><circle cx="236" cy="331.4" r="7.3"/><circle cx="237.5" cy="328.5" r="7.3"/><circle cx="238.9" cy="325.7" r="7.3"/><circle cx="240.3" cy="322.8" r="7.3"/><circle cx="241.8" cy="320" r="7.3"/><circle cx="243.3" cy="317.1" r="7.3"/><circle cx="244.7" cy="314.3" r="7.3"/><circle cx="246.2" cy="311.4" r="7.3"/><circle cx="247.6" cy="308.6" r="7.3"/><circle cx="249.1" cy="305.7" r="7.3"/><circle cx="250.5" cy="302.9" r="7.3"/><circle cx="252" cy="300" r="7.3"/><circle cx="253.5" cy="297.2" r="7.3"/><circle cx="255.6" cy="293.2" r="7.3"/><circle cx="257.7" cy="289.2" r="7.3"/><circle cx="259.9" cy="285.3" r="7.3"/><circle cx="262.1" cy="281.4" r="7.3"/><circle cx="264.5" cy="277.6" r="7.3"/><circle cx="266.9" cy="273.8" r="7.3"/><circle cx="269.3" cy="270" r="7.3"/><circle cx="271.8" cy="266.2" r="7.3"/><circle cx="274.1" cy="262.4" r="7.3"/><circle cx="276.2" cy="258.4" r="7.3"/><circle cx="278.2" cy="254.3" r="7.3"/><circle cx="280.1" cy="250.3" r="7.3"/><circle cx="282" cy="246.2" r="7.3"/><circle cx="283.8" cy="242" r="7.3"/><circle cx="285.5" cy="237.9" r="7.3"/><circle cx="287.1" cy="233.7" r="7.3"/><circle cx="288.6" cy="229.4" r="7.3"/><circle cx="290.1" cy="225.2" r="7.3"/><circle cx="291.5" cy="220.9" r="7.3"/><circle cx="292.9" cy="216.6" r="7.3"/><circle cx="294.2" cy="212.4" r="7.3"/><circle cx="295.6" cy="208" r="7.3"/><circle cx="296.8" cy="203.7" r="7.3"/><circle cx="298.1" cy="199.4" r="7.3"/><circle cx="299.8" cy="193.6" r="7.3"/><circle cx="301.3" cy="187.9" r="7.3"/><circle cx="302.8" cy="182.1" r="7.3"/><circle cx="304.3" cy="176.2" r="7.3"/><circle cx="305.6" cy="170.4" r="7.3"/><circle cx="306.9" cy="164.5" r="7.3"/><circle cx="308" cy="158.6" r="7.3"/><circle cx="309.2" cy="152.7" r="7.3"/><circle cx="310.2" cy="146.8" r="7.3"/><circle cx="311.3" cy="140.9" r="7.3"/><circle cx="312.3" cy="135" r="7.3"/><circle cx="313.4" cy="129.1" r="7.3"/><circle cx="314.6" cy="121.7" r="7.3"/><circle cx="315.9" cy="114.3" r="7.3"/><circle cx="317" cy="106.9" r="7.3"/><circle cx="318.2" cy="99.5" r="7.3"/><circle cx="319.3" cy="92.1" r="7.3"/><circle cx="320.4" cy="84.7" r="7.3"/><circle cx="321.6" cy="77.3" r="7.3"/><circle cx="322.8" cy="69.8" r="7.3"/><circle cx="323.9" cy="62.4" r="7.3"/><circle cx="325.1" cy="55" r="7.3"/><circle cx="326.4" cy="47.6" r="7.3"/><circle cx="327.8" cy="40.3" r="7.3"/><circle cx="329.5" cy="33" r="7.3"/><circle cx="330.8" cy="29" r="7.3"/><circle cx="332.3" cy="25.1" r="7.3"/><circle cx="334" cy="21.2" r="7.3"/><circle cx="334" cy="21.2" r="7.3"/>
</g>
</g>
<rect x="132.4" y="4.0" width="860.6" height="696.9" fill="none" stroke="#000" stroke-width="3"/>
<text x="131.9" y="745.8" font-family="Liberation Sans, Arial, sans-serif" font-size="40" text-anchor="middle">300</text>
<text x="264.3" y="745.8" font-family="Liberation Sans, Arial, sans-serif" font-size="40" text-anchor="middle">400</text>
<text x="396.7" y="745.8" font-family="Liberation Sans, Arial, sans-serif" font-size="40" text-anchor="middle">500</text>
<text x="529.1" y="745.8" font-family="Liberation Sans, Arial, sans-serif" font-size="40" text-anchor="middle">600</text>
<text x="661.5" y="745.8" font-family="Liberation Sans, Arial, sans-serif" font-size="40" text-anchor="middle">700</text>
<text x="793.9" y="745.8" font-family="Liberation Sans, Arial, sans-serif" font-size="40" text-anchor="middle">800</text>
<text x="926.3" y="745.8" font-family="Liberation Sans, Arial, sans-serif" font-size="40" text-anchor="middle">900</text>
<text x="116.5" y="716.5" font-family="Liberation Sans, Arial, sans-serif" font-size="40" text-anchor="end">10<tspan font-size="24.5" dy="-18.8">-4</tspan></text>
<text x="116.5" y="568.1" font-family="Liberation Sans, Arial, sans-serif" font-size="40" text-anchor="end">10<tspan font-size="24.5" dy="-18.8">-3</tspan></text>
<text x="116.5" y="419.8" font-family="Liberation Sans, Arial, sans-serif" font-size="40" text-anchor="end">10<tspan font-size="24.5" dy="-18.8">-2</tspan></text>
<text x="116.5" y="271.5" font-family="Liberation Sans, Arial, sans-serif" font-size="40" text-anchor="end">10<tspan font-size="24.5" dy="-18.8">-1</tspan></text>
<text x="116.5" y="123.1" font-family="Liberation Sans, Arial, sans-serif" font-size="40" text-anchor="end">10<tspan font-size="24.5" dy="-18.8">0</tspan></text>
<text x="418" y="805" font-family="Liberation Sans, Arial, sans-serif" font-size="40">Temperature (K)</text>
<text transform="translate(33,394) rotate(-90)" font-family="Liberation Sans, Arial, sans-serif" font-size="39">tan <tspan font-family="Liberation Serif, serif" font-size="38">δ</tspan></text>
<text x="412" y="36.8" font-family="Liberation Sans, Arial, sans-serif" font-size="32.8" letter-spacing="0.25">Frequency: 0.3 Hz</text>
<text x="412" y="78.5" font-family="Liberation Sans, Arial, sans-serif" font-size="32.8" letter-spacing="0.25">Heating rate: 3 K/min</text>
<text x="1017" y="32.3" font-family="Liberation Sans, Arial, sans-serif" font-size="33" letter-spacing="0.45" fill="#141452"><tspan y="32.3">1- Zn</tspan><tspan font-size="22" y="41.8">38</tspan><tspan y="32.3">Mg</tspan><tspan font-size="22" y="41.8">12</tspan><tspan y="32.3">Ca</tspan><tspan font-size="22" y="41.8">32</tspan><tspan y="32.3">Yb</tspan><tspan font-size="22" y="41.8">18</tspan></text>
<text x="1017" y="103" font-family="Liberation Sans, Arial, sans-serif" font-size="33" letter-spacing="0.45" fill="#c814cc"><tspan y="103">2- La</tspan><tspan font-size="22" y="112.5">60</tspan><tspan y="103">Ni</tspan><tspan font-size="22" y="112.5">15</tspan><tspan y="103">Al</tspan><tspan font-size="22" y="112.5">25</tspan></text>
<text x="1017" y="175.3" font-family="Liberation Sans, Arial, sans-serif" font-size="33" letter-spacing="0.45" fill="#0d600d"><tspan y="175.3">3- Cu</tspan><tspan font-size="22" y="184.8">46</tspan><tspan y="175.3">Zr</tspan><tspan font-size="22" y="184.8">47</tspan><tspan y="175.3">Al</tspan><tspan font-size="22" y="184.8">7</tspan></text>
<text x="1017" y="247.3" font-family="Liberation Sans, Arial, sans-serif" font-size="33" letter-spacing="0.45" fill="#1c10c0"><tspan y="247.3">4- Zr</tspan><tspan font-size="22" y="256.8">56</tspan><tspan y="247.3">Co</tspan><tspan font-size="22" y="256.8">28</tspan><tspan y="247.3">Al</tspan><tspan font-size="22" y="256.8">16</tspan></text>
<text x="1017" y="303.3" font-family="Liberation Sans, Arial, sans-serif" font-size="33" letter-spacing="0.45" fill="#c41222"><tspan y="303.3">5- Co</tspan><tspan font-size="22" y="312.8">25</tspan><tspan y="303.3">Ni</tspan><tspan font-size="22" y="312.8">25</tspan><tspan y="303.3">(HfTiZr)</tspan><tspan font-size="22" y="312.8">50</tspan><tspan y="303.3"> (Polycrystal)</tspan></text>
<text x="1017" y="358.5" font-family="Liberation Sans, Arial, sans-serif" font-size="33" letter-spacing="0.3" fill="#000"><tspan y="358.5">6- Co</tspan><tspan font-size="22" y="368.0">25</tspan><tspan y="358.5">Ni</tspan><tspan font-size="22" y="368.0">25</tspan><tspan y="358.5">(HfTiZr)</tspan><tspan font-size="22" y="368.0">50</tspan><tspan y="358.5"> (Single crystal)</tspan></text>
<text x="287.5" y="93.2" font-family="Liberation Sans, Arial, sans-serif" font-weight="bold" font-size="41.5" fill="#10107a">1</text>
<text x="313.5" y="290.3" font-family="Liberation Sans, Arial, sans-serif" font-weight="bold" font-size="41.5" fill="#e414e4">2</text>
<text x="656.5" y="137.9" font-family="Liberation Sans, Arial, sans-serif" font-weight="bold" font-size="41.5" fill="#157a15">3</text>
<text x="762.5" y="172.9" font-family="Liberation Sans, Arial, sans-serif" font-weight="bold" font-size="41.5" fill="#1010e0">4</text>
<text x="777" y="441.4" font-family="Liberation Sans, Arial, sans-serif" font-weight="bold" font-size="41.5" fill="#ee0a0a">5</text>
<text x="737" y="544.4" font-family="Liberation Sans, Arial, sans-serif" font-weight="bold" font-size="41.5" fill="#000">6</text>
</svg>
</body></html>
